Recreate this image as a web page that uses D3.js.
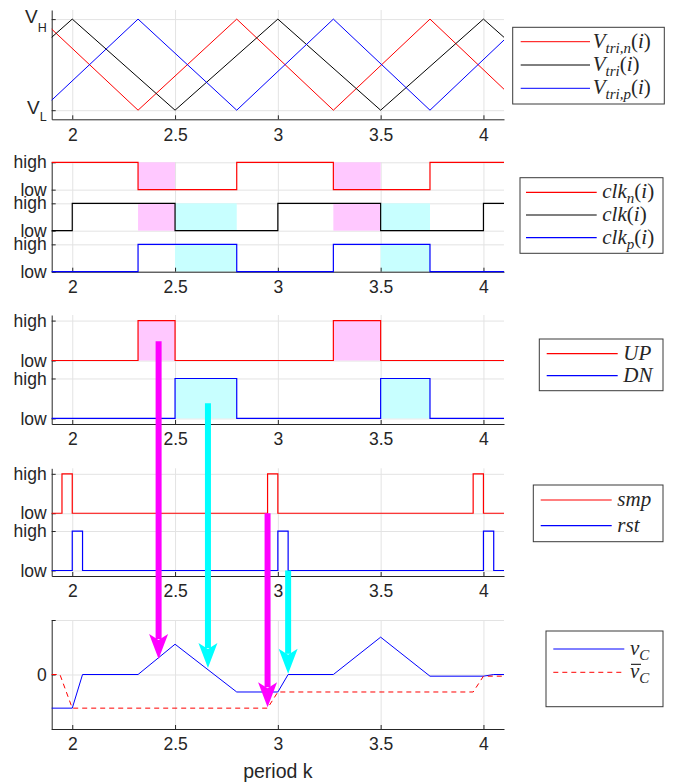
<!DOCTYPE html>
<html>
<head>
<meta charset="utf-8">
<script src="https://cdn.jsdelivr.net/npm/d3@7"></script>
<style>
  body { margin: 0; background: #fff; }
  text { fill: #262626; }
</style>
</head>
<body>
<script>
// ---------- data ----------
const xTicks = [2, 2.5, 3, 3.5, 4];

// triangle carriers, vertices only
const triT = [1.9, 2, 2.5, 3, 3.5, 4, 4.1];
const vTri = [0.8, 1, 0, 1, 0, 1, 0.8];
const triNT = [1.9, 2.32, 2.8, 3.27, 3.74, 4.1];
const vTriN = [0.89, 0, 1, 0, 1, 0.23];
const vTriP = [0.11, 1, 0, 1, 0, 0.77];

// clocks (state after each time)
const clkNT = [1.9, 2.32, 2.8, 3.27, 3.74, 4.1];
const clkN = [1, 0, 1, 0, 1, 1];
const clkT = [1.9, 2, 2.5, 3, 3.5, 4, 4.1];
const clk = [0, 1, 0, 1, 0, 1, 1];
const clkP = [0, 1, 0, 1, 0, 0];

const upT = [1.9, 2.32, 2.5, 3.27, 3.5, 4.1];
const up = [0, 1, 0, 1, 0, 0];
const dnT = [1.9, 2.5, 2.8, 3.5, 3.74, 4.1];
const dn = [0, 1, 0, 1, 0, 0];

const smpT = [1.9, 1.95, 2, 2.95, 3, 3.95, 4, 4.1];
const smp = [0, 1, 0, 1, 0, 1, 0, 0];
const rstT = [1.9, 2, 2.05, 3, 3.05, 4, 4.05, 4.1];
const rst = [0, 1, 0, 1, 0, 1, 0, 0];

const vcT = [1.9, 2, 2.05, 2.32, 2.5, 2.8, 3, 3.05, 3.27, 3.5, 3.74, 4, 4.05, 4.1];
const vc = [-1, -1, 0, 0, 0.9, -0.52, -0.52, 0, 0, 1.11, -0.05, -0.05, 0, 0];
const vbarT = [1.9, 1.94, 2, 2.95, 3, 3.95, 4, 4.1];
const vbar = [0, 0, -1, -1, -0.52, -0.52, -0.05, -0.05];

// shaded intervals
const upOn = [[2.32, 2.5], [3.27, 3.5]];
const dnOn = [[2.5, 2.8], [3.5, 3.74]];

// arrows: x, start panel + value there, end value on v_C
const arrowX = [2.42, 2.66, 2.95, 3.05];
const arrowPanel = [2, 2, 3, 3];
const arrowFrom = [1.93, 0.38, 1.45, 0];
const arrowTo = [0.46, 0.19, -0.97, 0.02];
const arrowCol = ['#ff00ff', '#00ffff', '#ff00ff', '#00ffff'];

// ---------- layout ----------
const W = 673, H = 783;
const RED = '#ff0000', BLUE = '#0000ff', BLACK = '#000000';
const MAG_FILL = 'rgb(255,200,255)', CYAN_FILL = 'rgb(200,255,255)';
const LOHI = ['low', 'high'];

const svg = d3.select('body').append('svg')
  .attr('width', W).attr('height', H)
  .style('font-family', '"Liberation Sans", Arial, sans-serif');
svg.append('rect').attr('width', W).attr('height', H).attr('fill', '#fff');

const x = d3.scaleLinear().domain([1.9, 4.1]).range([51.7, 504]);

const panels = [
  { top: 10, bottom: 119.3, dom: [-0.1, 1.1], yt: [0, 1], yl: ['', ''] },
  { top: 162.3, bottom: 271.7, dom: [0, 4], yt: [0, 1, 1.5, 2.5, 3, 4], yl: [0, 1, 0, 1, 0, 1].map(i => LOHI[i]) },
  { top: 315, bottom: 424, dom: [-0.14, 2.59], yt: [0, 1, 1.45, 2.45], yl: [0, 1, 0, 1].map(i => LOHI[i]) },
  { top: 468.3, bottom: 576, dom: [-0.14, 2.59], yt: [0, 1, 1.45, 2.45], yl: [0, 1, 0, 1].map(i => LOHI[i]) },
  { top: 620, bottom: 729, dom: [-1.62, 1.62], yt: [-1.62, 0, 1.62], yl: ['', '0', ''] }
];
panels.forEach(p => { p.y = d3.scaleLinear().domain(p.dom).range([p.bottom, p.top]); });

const zip = (t, v, lo = 0, hi = 1) => t.map((d, i) => [d, lo + v[i] * (hi - lo)]);
const zipRaw = (t, v) => t.map((d, i) => [d, v[i]]);

function drawPanel(p, series, shades, legend) {
  const g = svg.append('g');
  const h = p.bottom - p.top;
  // grid
  g.append('g').attr('transform', `translate(0,${p.bottom})`)
    .call(d3.axisBottom(x).tickValues(xTicks).tickSize(-h).tickFormat(''))
    .call(a => a.select('.domain').remove())
    .selectAll('line').attr('stroke', '#e3e3e3');
  g.append('g').attr('transform', `translate(${x.range()[0]},0)`)
    .call(d3.axisLeft(p.y).tickValues(p.yt).tickSize(-(x.range()[1] - x.range()[0])).tickFormat(''))
    .call(a => a.select('.domain').remove())
    .selectAll('line').attr('stroke', '#e3e3e3');
  // shaded boxes
  shades.forEach(s => {
    g.append('rect')
      .attr('x', x(s.x0)).attr('width', x(s.x1) - x(s.x0))
      .attr('y', p.y(s.y1)).attr('height', p.y(s.y0) - p.y(s.y1))
      .attr('fill', s.fill);
  });
  // axes
  const ax = g.append('g').attr('transform', `translate(0,${p.bottom})`)
    .call(d3.axisBottom(x).tickValues(xTicks).tickSizeInner(-4).tickSizeOuter(0).tickPadding(9).tickFormat(d3.format('')));
  const ay = g.append('g').attr('transform', `translate(${x.range()[0]},0)`)
    .call(d3.axisLeft(p.y).tickValues(p.yt).tickSizeInner(-4).tickSizeOuter(0).tickPadding(5)
      .tickFormat((d, i) => p.yl[i]));
  [ax, ay].forEach(a => {
    a.select('.domain').attr('stroke', '#262626');
    a.selectAll('.tick line').attr('stroke', '#262626');
    a.selectAll('text').attr('font-size', 17.5).attr('fill', '#262626').attr('font-family', '"Liberation Sans", Arial, sans-serif');
  });
  // lines
  series.forEach(s => {
    const line = d3.line().x(d => x(d[0])).y(d => p.y(d[1]));
    if (s.step) line.curve(d3.curveStepAfter);
    g.append('path').datum(s.data)
      .attr('d', line).attr('fill', 'none')
      .attr('stroke', s.color).attr('stroke-width', s.width || 1.2)
      .attr('stroke-dasharray', s.dash || null);
  });
  // legend
  const L = legend;
  const lg = svg.append('g');
  lg.append('rect').attr('x', L.x0).attr('y', L.y0).attr('width', L.x1 - L.x0).attr('height', L.y1 - L.y0)
    .attr('fill', '#fff').attr('stroke', '#3a3a3a').attr('stroke-width', 1);
  series.forEach((s, i) => {
    const ry = L.rows[i];
    lg.append('line').attr('x1', L.lx0).attr('x2', L.lx1).attr('y1', ry).attr('y2', ry)
      .attr('stroke', s.color).attr('stroke-width', s.width || 1.2)
      .attr('stroke-dasharray', s.dash || null);
    const t = lg.append('text').attr('x', L.tx).attr('y', ry + 6)
      .attr('font-family', '"Liberation Serif", "DejaVu Serif", serif').attr('font-size', 21);
    let sub = false;
    s.label.forEach(([str, kind]) => {
      const ts = t.append('tspan').text(str);
      if (kind === 'sub') {
        ts.attr('font-size', 15).attr('font-style', 'italic');
        if (!sub) ts.attr('dy', 5);
        sub = true;
      } else {
        ts.attr('font-style', kind === 'n' ? 'normal' : 'italic');
        if (sub) ts.attr('dy', -5);
        sub = false;
      }
    });
    if (s.bar) {
      lg.append('line').attr('x1', L.tx + 1).attr('x2', L.tx + 11)
        .attr('y1', ry - 8).attr('y2', ry - 8).attr('stroke', '#000').attr('stroke-width', 1);
    }
  });
  return g;
}

// ---- panel 1 : carriers ----
const p1 = panels[0];
drawPanel(p1, [
  { data: zipRaw(triNT, vTriN), color: RED, width: 1, label: [['V', 'i'], ['tri,n', 'sub'], ['(', 'n'], ['i', 'i'], [')', 'n']] },
  { data: zipRaw(triT, vTri), color: BLACK, width: 1, label: [['V', 'i'], ['tri', 'sub'], ['(', 'n'], ['i', 'i'], [')', 'n']] },
  { data: zipRaw(triNT, vTriP), color: BLUE, width: 1, label: [['V', 'i'], ['tri,p', 'sub'], ['(', 'n'], ['i', 'i'], [')', 'n']] }
], [], { x0: 512.7, x1: 664.3, y0: 27.3, y1: 104, rows: [41.7, 65, 88.3], lx0: 520.7, lx1: 590, tx: 592.7 });
// V_H / V_L tick labels
[[1, 'H', 3.4, 9], [0, 'L', 4.3, 7]].forEach(([v, s, d1, d2]) => {
  const t = svg.append('text').attr('x', 46.7).attr('y', p1.y(v) + d1)
    .attr('text-anchor', 'end').attr('font-size', 19);
  t.append('tspan').text('V');
  t.append('tspan').text(s).attr('font-size', 12.5).attr('dy', d2);
});

// ---- panel 2 : clocks ----
const p2 = panels[1];
const shades2 = [];
upOn.forEach(([a, b]) => {
  shades2.push({ x0: a, x1: b, y0: 3, y1: 4, fill: MAG_FILL });
  shades2.push({ x0: a, x1: b, y0: 1.5, y1: 2.5, fill: MAG_FILL });
});
dnOn.forEach(([a, b]) => {
  shades2.push({ x0: a, x1: b, y0: 1.5, y1: 2.5, fill: CYAN_FILL });
  shades2.push({ x0: a, x1: b, y0: 0, y1: 1, fill: CYAN_FILL });
});
drawPanel(p2, [
  { data: zip(clkNT, clkN, 3, 4), step: true, color: RED, label: [['clk', 'i'], ['n', 'sub'], ['(', 'n'], ['i', 'i'], [')', 'n']] },
  { data: zip(clkT, clk, 1.5, 2.5), step: true, color: BLACK, label: [['clk', 'i'], ['(', 'n'], ['i', 'i'], [')', 'n']] },
  { data: zip(clkNT, clkP, 0, 1), step: true, color: BLUE, label: [['clk', 'i'], ['p', 'sub'], ['(', 'n'], ['i', 'i'], [')', 'n']] }
], shades2, { x0: 520, x1: 663, y0: 177.7, y1: 253.3, rows: [192.3, 215, 237.7], lx0: 526, lx1: 596.7, tx: 602.3 });

// ---- panel 3 : UP / DN ----
const p3 = panels[2];
const shades3 = upOn.map(([a, b]) => ({ x0: a, x1: b, y0: 1.45, y1: 2.45, fill: MAG_FILL }))
  .concat(dnOn.map(([a, b]) => ({ x0: a, x1: b, y0: 0, y1: 1, fill: CYAN_FILL })));
drawPanel(p3, [
  { data: zip(upT, up, 1.45, 2.45), step: true, color: RED, label: [['UP', 'i']] },
  { data: zip(dnT, dn, 0, 1), step: true, color: BLUE, label: [['DN', 'i']] }
], shades3, { x0: 539.3, x1: 663, y0: 339, y1: 390.7, rows: [353.7, 375.7], lx0: 546.7, lx1: 617.7, tx: 623.3 });

// ---- panel 4 : smp / rst ----
const p4 = panels[3];
drawPanel(p4, [
  { data: zip(smpT, smp, 1.45, 2.45), step: true, color: RED, label: [['smp', 'i']] },
  { data: zip(rstT, rst, 0, 1), step: true, color: BLUE, label: [['rst', 'i']] }
], [], { x0: 533.3, x1: 663, y0: 485, y1: 541.7, rows: [500, 525.7], lx0: 540.7, lx1: 611.7, tx: 617.3 });

// ---- panel 5 : v_C ----
const p5 = panels[4];
drawPanel(p5, [
  { data: zipRaw(vcT, vc), color: BLUE, width: 1, label: [['v', 'i'], ['C', 'sub']] },
  { data: zipRaw(vbarT, vbar), color: RED, width: 1, dash: '5,4', bar: true, label: [['v', 'i'], ['C', 'sub']] }
], [], { x0: 546, x1: 663, y0: 631, y1: 706.7, rows: [649, 672.3], lx0: 553.3, lx1: 624.3, tx: 630 });

svg.append('text').attr('x', x(3)).attr('y', 778).attr('text-anchor', 'middle')
  .attr('font-size', 19.5).text('period k');

// ---- arrows ----
const ag = svg.append('g');
arrowX.forEach((ax, i) => {
  const px = x(ax);
  const y0 = panels[arrowPanel[i]].y(arrowFrom[i]);
  const tip = p5.y(arrowTo[i]);
  ag.append('line').attr('x1', px).attr('x2', px).attr('y1', y0).attr('y2', tip - 20)
    .attr('stroke', arrowCol[i]).attr('stroke-width', 6);
  ag.append('path')
    .attr('d', `M${px},${tip} L${px + 9.5},${tip - 25} L${px},${tip - 19} L${px - 9.5},${tip - 25} Z`)
    .attr('fill', arrowCol[i]);
});
</script>
</body>
</html>
